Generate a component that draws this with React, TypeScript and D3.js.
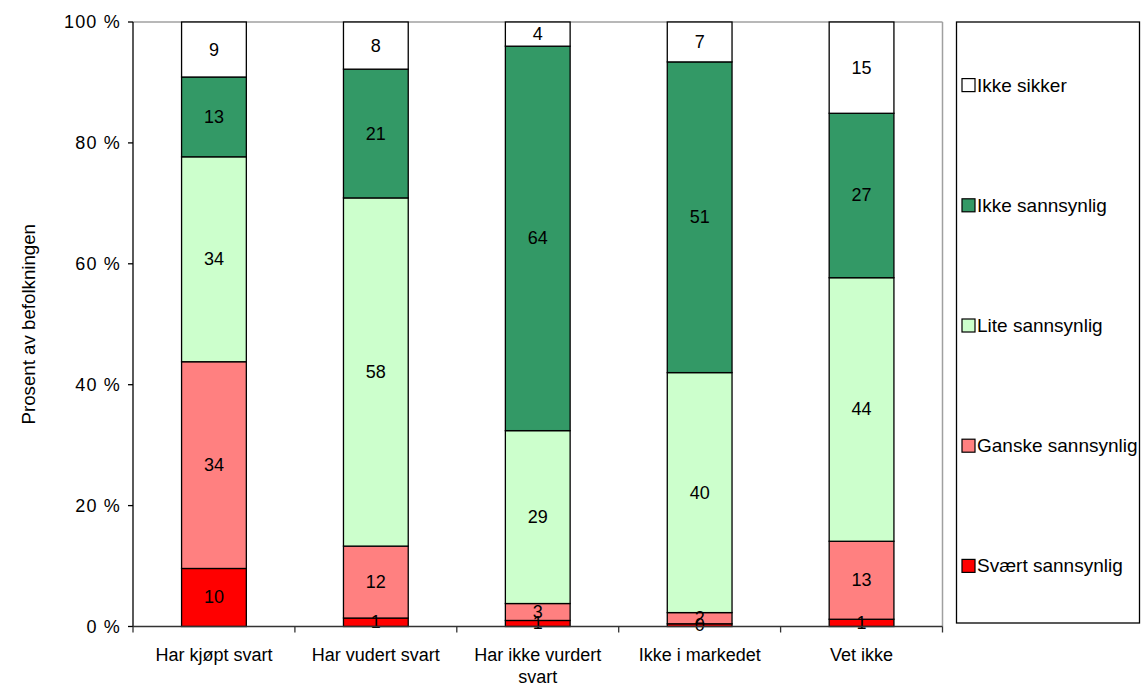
import React from "react";
import * as d3 from "d3";

const categories: string[][] = [
  ["Har kjøpt svart"],
  ["Har vudert svart"],
  ["Har ikke vurdert", "svart"],
  ["Ikke i markedet"],
  ["Vet ikke"],
];
const seriesNames = ["Svært sannsynlig", "Ganske sannsynlig", "Lite sannsynlig", "Ikke sannsynlig", "Ikke sikker"];
const seriesColors = ["#FF0000", "#FF8080", "#CCFFCC", "#339966", "#FFFFFF"];
const sveartSannsynlig = [9.6, 1.4, 1.0, 0.45, 1.2];
const ganskeSannsynlig = [34.2, 11.9, 2.8, 1.85, 12.9];
const liteSannsynlig = [33.9, 57.6, 28.6, 39.7, 43.6];
const ikkeSannsynlig = [13.2, 21.3, 63.6, 51.4, 27.2];
const ikkeSikker = [9.1, 7.8, 4.0, 6.6, 15.1];
const yTicks = [0, 20, 40, 60, 80, 100];

const series = [sveartSannsynlig, ganskeSannsynlig, liteSannsynlig, ikkeSannsynlig, ikkeSikker];

export default function App() {
  const W = 1142, H = 686;
  const left = 133, right = 942.5, top = 22, bottom = 626.5;
  const font = "Liberation Sans, Arial, sans-serif";
  const fs = 18;
  const x = d3.scaleBand<number>().domain(categories.map((_, i) => i)).range([left, right]).paddingInner(0.6).paddingOuter(0.3);
  const y = d3.scaleLinear().domain([0, 100]).range([bottom, top]);
  const catW = (right - left) / categories.length;

  const rows = categories.map((_, i) => {
    const r: any = { i };
    seriesNames.forEach((n, s) => (r[n] = series[s][i]));
    return r;
  });
  const stacked = d3.stack<any>().keys(seriesNames)(rows);

  const legendTop = 22, legendBottom = 623;
  const legendStep = (legendBottom - legendTop) / seriesNames.length;
  const legendOrder = [...seriesNames.keys()].reverse();

  return (
    <svg width={W} height={H} style={{ position: "absolute", left: 0, top: 0, background: "#fff" }}>
      <line x1={left} y1={top} x2={right} y2={top} stroke="#A0A0A0" strokeWidth={1.5} />
      <line x1={right} y1={top} x2={right} y2={bottom} stroke="#A0A0A0" strokeWidth={1.5} />
      {stacked.map((layer, s) =>
        layer.map((d, i) => {
          const y0 = y(d[0]), y1 = y(d[1]);
          return (
            <rect key={`${s}-${i}`} x={x(i)!} y={y1} width={x.bandwidth()} height={y0 - y1}
              fill={seriesColors[s]} stroke="#000" strokeWidth={1.3} />
          );
        })
      )}
      {stacked.map((layer, s) =>
        layer.map((d, i) => (
          <text key={`l${s}-${i}`} x={x(i)! + x.bandwidth() / 2} y={(y(d[0]) + y(d[1])) / 2}
            textAnchor="middle" dominantBaseline="central" fontFamily={font} fontSize={fs} fill="#000">
            {Math.round(series[s][i])}
          </text>
        ))
      )}
      <line x1={left} y1={top} x2={left} y2={bottom} stroke="#000" strokeWidth={1.3} />
      <line x1={left} y1={bottom} x2={right} y2={bottom} stroke="#333" strokeWidth={1.5} />
      {yTicks.map((t) => (
        <g key={t}>
          <line x1={left - 5} x2={left} y1={y(t)} y2={y(t)} stroke="#000" strokeWidth={1.3} />
          <text x={left - 12} y={y(t)} textAnchor="end" dominantBaseline="central" fontFamily={font} fontSize={fs} letterSpacing={1.2}>
            {t} %
          </text>
        </g>
      ))}
      {d3.range(categories.length + 1).map((k) => (
        <line key={k} x1={left + k * catW} x2={left + k * catW} y1={bottom} y2={bottom + 6} stroke="#333" strokeWidth={1.3} />
      ))}
      {categories.map((lines, i) => (
        <text key={i} x={x(i)! + x.bandwidth() / 2} y={655} textAnchor="middle" dominantBaseline="central" fontFamily={font} fontSize={fs}>
          {lines.map((l, j) => (
            <tspan key={j} x={x(i)! + x.bandwidth() / 2} dy={j === 0 ? 0 : 22}>{l}</tspan>
          ))}
        </text>
      ))}
      <text transform={`translate(28,${(top + bottom) / 2}) rotate(-90)`} textAnchor="middle" dominantBaseline="central" fontFamily={font} fontSize={18.7}>
        Prosent av befolkningen
      </text>
      <rect x={956.5} y={legendTop} width={183} height={legendBottom - legendTop} fill="#fff" stroke="#000" strokeWidth={1.3} />
      {legendOrder.map((s, k) => {
        const cy = legendTop + legendStep * (k + 0.5) + 3;
        return (
          <g key={s}>
            <rect x={962} y={cy - 6.5} width={13} height={13} fill={seriesColors[s]} stroke="#000" strokeWidth={1.2} />
            <text x={977} y={cy} dominantBaseline="central" fontFamily={font} fontSize={19}>{seriesNames[s]}</text>
          </g>
        );
      })}
    </svg>
  );
}
